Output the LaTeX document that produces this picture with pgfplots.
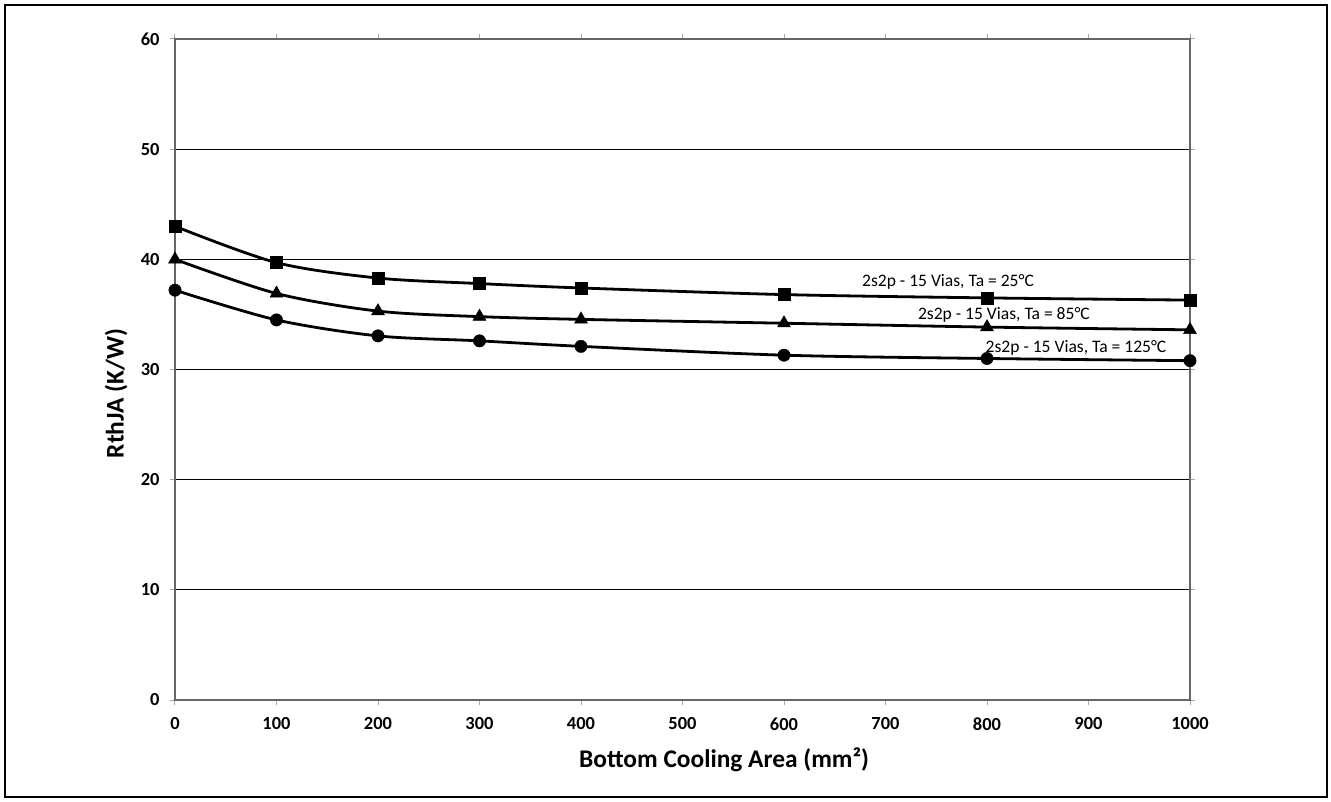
\documentclass[border=0pt]{standalone}
\usepackage{fontspec}
\setmainfont{Carlito}
\usepackage{pgfplots}
\pgfplotsset{compat=1.18}
\definecolor{axgray}{HTML}{666666}
\begin{document}
\begin{tikzpicture}[x=1bp,y=1bp]
\begin{axis}[
  scale only axis,
  width=1015bp, height=661bp,
  xmin=0, xmax=1000, ymin=0, ymax=60,
  xtick={0,100,...,1000}, ytick={0,10,...,60},
  /pgf/number format/assume math mode=true,
  /pgf/number format/1000 sep={},
  tick label style={font=\fontsize{18.5}{22}\selectfont\bfseries, black},
  xticklabel style={yshift=-9bp},
  yticklabel style={xshift=-7bp},
  tick align=outside,
  major tick length=5bp,
  tick style={color=gray!70, line width=1bp},
  axis line style={draw=axgray, line width=1.3bp},
  ymajorgrids,
  grid style={black, line width=0.9bp},
  xlabel={Bottom Cooling Area (mm²)},
  ylabel={RthJA (K/W)},
  every axis x label/.style={at={(axis description cs:0.541,-0.0908)}, anchor=center, font=\fontsize{25.5}{30}\selectfont\bfseries},
  every axis y label/.style={at={(axis description cs:-0.058,0.4637)}, anchor=center, rotate=90, font=\fontsize{25.5}{30}\selectfont\bfseries},
  clip=false,
]
\addplot[black, line width=2.8bp, smooth, tension=0.5, mark=square*, mark size=6bp, mark options={solid, line width=0.4bp}] coordinates {
(0,43.0) (100,39.7) (200,38.3) (300,37.8) (400,37.4) (600,36.8) (800,36.5) (1000,36.3)};
\addplot[black, line width=2.8bp, smooth, tension=0.5, mark=triangle*, mark size=7.5bp, mark options={solid, line width=0.4bp}] coordinates {
(0,40.0) (100,36.9) (200,35.3) (300,34.8) (400,34.55) (600,34.2) (800,33.85) (1000,33.6)};
\addplot[black, line width=2.8bp, smooth, tension=0.5, mark=*, mark size=6.2bp, mark options={solid, line width=0.4bp}] coordinates {
(0,37.2) (100,34.5) (200,33.05) (300,32.6) (400,32.1) (600,31.3) (800,31.0) (1000,30.8)};
\node[font=\fontsize{17.6}{20}\selectfont, anchor=center] at (axis cs:761.6,37.95) {2s2p - 15 Vias, Ta = 25°C};
\node[font=\fontsize{17.6}{20}\selectfont, anchor=center] at (axis cs:816.7,35.0) {2s2p - 15 Vias, Ta = 85°C};
\node[font=\fontsize{17.6}{20}\selectfont, anchor=center] at (axis cs:887.7,31.95) {2s2p - 15 Vias, Ta = 125°C};
\coordinate (O) at (rel axis cs:0,0);
\end{axis}
\draw[black, line width=1.2bp] ([shift={(-170bp,-97bp)}]O) rectangle ++(1322bp,792bp);
\path ([shift={(-175bp,-102bp)}]O) rectangle ++(1331bp,802bp);
\end{tikzpicture}
\end{document}
